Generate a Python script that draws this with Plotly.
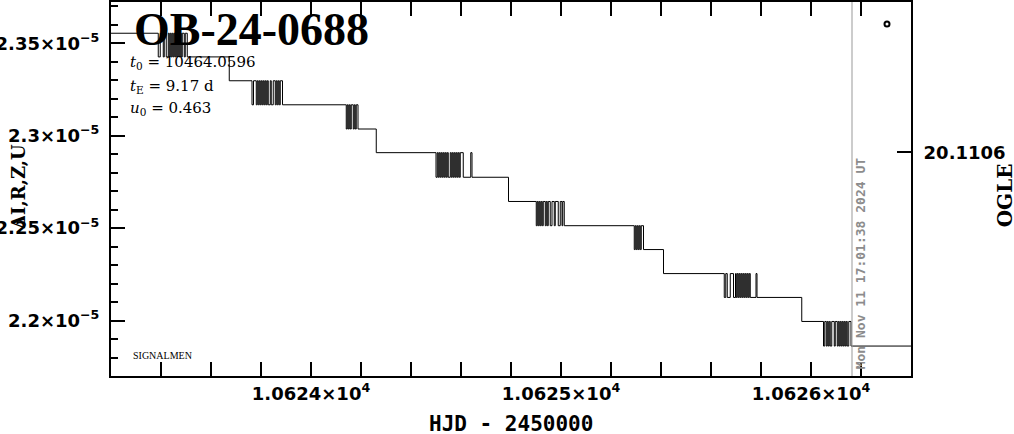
import plotly.graph_objects as go

# ---------------- data ----------------
event_name = "OB-24-0688"
t0_text = "10464.0596"
tE_text = "9.17 d"
u0_text = "0.463"
now_label = "Mon Nov 11 17:01:38 2024 UT"
now_hjd = 10626.164

# model magnitude levels (units of 1e-5), top-left to bottom-right
levels_1e5 = [2.3554, 2.3426, 2.3297, 2.3167, 2.3036, 2.2908, 2.2775,
              2.2644, 2.2513, 2.2384, 2.2254, 2.2125, 2.1995, 2.1862]

t_start = 10623.20
t_end = 10626.40

# times (HJD-2450000) where the curve switches between consecutive levels
gap_a = [10623.389, 10623.397, 10623.409, 10623.413, 10623.421, 10623.429, 10623.433,
         10623.437, 10623.441, 10623.445, 10623.449, 10623.453, 10623.457, 10623.461,
         10623.465, 10623.469, 10623.473, 10623.477, 10623.481, 10623.485, 10623.493,
         10623.497, 10623.505]
gap_b = [10623.673]
gap_c = [10623.764, 10623.770, 10623.781, 10623.785, 10623.789, 10623.793, 10623.797,
         10623.801, 10623.805, 10623.809, 10623.813, 10623.817, 10623.821, 10623.825,
         10623.829, 10623.837, 10623.841, 10623.849, 10623.857, 10623.861, 10623.865,
         10623.869, 10623.873, 10623.877, 10623.886]
gap_d = [10624.141, 10624.145, 10624.149, 10624.153, 10624.157, 10624.161, 10624.169,
         10624.173, 10624.177, 10624.181, 10624.188]
gap_e = [10624.261]
gap_f = [10624.500, 10624.505, 10624.509, 10624.513, 10624.517, 10624.521, 10624.525,
         10624.529, 10624.533, 10624.537, 10624.541, 10624.545, 10624.549, 10624.557,
         10624.561, 10624.565, 10624.569, 10624.573, 10624.577, 10624.581, 10624.585,
         10624.589, 10624.593, 10624.597, 10624.609, 10624.639, 10624.644]
gap_g = [10624.790]
gap_h = [10624.901, 10624.905, 10624.909, 10624.913, 10624.917, 10624.921, 10624.925,
         10624.929, 10624.937, 10624.941, 10624.945, 10624.949, 10624.957, 10624.964,
         10624.973, 10624.977, 10624.989, 10624.997, 10625.004, 10625.007, 10625.013]
gap_i = [10625.293, 10625.297, 10625.301, 10625.305, 10625.309, 10625.313, 10625.317,
         10625.321, 10625.330]
gap_j = [10625.410]
gap_k = [10625.653, 10625.659, 10625.665, 10625.677, 10625.690, 10625.698, 10625.701,
         10625.705, 10625.709, 10625.713, 10625.717, 10625.721, 10625.725, 10625.729,
         10625.733, 10625.737, 10625.741, 10625.745, 10625.749, 10625.753, 10625.757,
         10625.780, 10625.784]
gap_l = [10625.963]
gap_m = [10626.050, 10626.055, 10626.061, 10626.065, 10626.069, 10626.073, 10626.077,
         10626.083, 10626.093, 10626.097, 10626.105, 10626.109, 10626.113, 10626.117,
         10626.121, 10626.125, 10626.129, 10626.133, 10626.137, 10626.141, 10626.145,
         10626.151, 10626.160]
transitions = [gap_a, gap_b, gap_c, gap_d, gap_e, gap_f, gap_g,
               gap_h, gap_i, gap_j, gap_k, gap_l, gap_m]

ogle_t = [10626.304]
ogle_mag = [20.093]

x_tickvals = [10624, 10625, 10626]
x_ticktext = ["1.0624×10<sup>4</sup>", "1.0625×10<sup>4</sup>", "1.0626×10<sup>4</sup>"]
y_tickvals_1e5 = [2.20, 2.25, 2.30, 2.35]
y_ticktext = ["2.2×10<sup>−5</sup>", "2.25×10<sup>−5</sup>", "2.3×10<sup>−5</sup>", "2.35×10<sup>−5</sup>"]
y2_tickvals = [20.1106]
y2_ticktext = ["20.1106"]

# ---------------- build curve ----------------
ts = [t_start]
vs = [levels_1e5[0] * 1e-5]
for i, trans in enumerate(transitions):
    for k, tk in enumerate(trans):
        ts.append(tk)
        vs.append((levels_1e5[i + 1] if k % 2 == 0 else levels_1e5[i]) * 1e-5)
ts.append(t_end)
vs.append(levels_1e5[-1] * 1e-5)

fig = go.Figure()
fig.add_trace(go.Scatter(x=ts, y=vs, mode="lines", line=dict(color="black", width=1, shape="hv"),
                         hoverinfo="skip", showlegend=False))
fig.add_trace(go.Scatter(x=ogle_t, y=ogle_mag, yaxis="y2", mode="markers",
                         marker=dict(symbol="circle-open", size=5, color="black", line=dict(width=2)),
                         showlegend=False))

tickfont = dict(family="DejaVu Sans", size=18, color="black", weight="bold")

x_minor = [10623.2 + 0.2 * i for i in range(17)]
y_minor = [(2.17 + 0.01 * i) * 1e-5 for i in range(21)]

fig.update_layout(
    width=1014, height=434,
    margin=dict(l=111, r=103, t=2, b=58, autoexpand=False),
    paper_bgcolor="white", plot_bgcolor="white",
    xaxis=dict(range=[t_start, t_end], showgrid=False, zeroline=False, automargin=False,
               showline=True, linewidth=2, linecolor="black", mirror="allticks",
               ticks="inside", ticklen=14, tickwidth=1.5, tickcolor="black",
               tickmode="array", tickvals=x_tickvals, ticktext=x_ticktext,
               tickfont=tickfont, ticklabelstandoff=0,
               minor=dict(tickmode="array", tickvals=x_minor, ticks="inside", ticklen=7,
                          tickwidth=1.5, tickcolor="black", showgrid=False)),
    yaxis=dict(range=[2.1700e-5, 2.3723e-5], showgrid=False, zeroline=False, automargin=False,
               showline=True, linewidth=2, linecolor="black",
               ticks="inside", ticklen=14, tickwidth=1.5, tickcolor="black",
               tickmode="array", tickvals=[v * 1e-5 for v in y_tickvals_1e5], ticktext=y_ticktext,
               tickfont=tickfont, ticklabelstandoff=6,
               minor=dict(tickmode="array", tickvals=y_minor, ticks="inside", ticklen=7,
                          tickwidth=1.5, tickcolor="black", showgrid=False)),
    yaxis2=dict(overlaying="y", side="right", range=[20.1412, 20.09], showgrid=False, zeroline=False,
                automargin=False,
                showline=True, linewidth=2, linecolor="black",
                ticks="inside", ticklen=14, tickwidth=1.5, tickcolor="black",
                tickmode="array", tickvals=y2_tickvals, ticktext=y2_ticktext,
                tickfont=tickfont, ticklabelstandoff=7),
)

fig.add_shape(type="line", xref="x", yref="paper", x0=now_hjd, x1=now_hjd, y0=0, y1=1,
              line=dict(color="#999999", width=1))

ann = []
ann.append(dict(text=event_name, xref="paper", yref="paper", x=0.026, y=1.0,
                xanchor="left", yanchor="top", showarrow=False,
                font=dict(family="Liberation Serif", size=46, color="black", weight="bold")))
info_font = dict(family="DejaVu Serif", size=15, color="black")
for txt, ypx in [("<i>t</i><sub>0</sub> = " + t0_text, 63),
                 ("<i>t</i><sub>E</sub> = " + tE_text, 86),
                 ("<i>u</i><sub>0</sub> = " + u0_text, 108)]:
    ann.append(dict(text=txt, xref="paper", yref="paper", x=(128 - 111) / 799.7,
                    y=1 - (ypx - 2) / 374, xanchor="left", yanchor="middle",
                    showarrow=False, font=info_font))
ann.append(dict(text="SIGNALMEN", xref="paper", yref="paper", x=(131 - 111) / 799.7,
                y=1 - (355 - 2) / 374, xanchor="left", yanchor="middle", showarrow=False,
                font=dict(family="Liberation Serif", size=10, color="black")))
ann.append(dict(text=now_label, xref="paper", yref="paper", x=(860 - 111) / 799.7,
                y=1 - (264 - 2) / 374, xanchor="center", yanchor="middle", textangle=-90,
                showarrow=False,
                font=dict(family="DejaVu Sans Mono", size=13, color="#8c8c8c", weight="bold")))
ann.append(dict(text="HJD - 2450000", xref="paper", yref="paper", x=0.5,
                y=1 - (424 - 2) / 374, xanchor="center", yanchor="middle", showarrow=False,
                font=dict(family="DejaVu Sans Mono", size=21, color="black", weight="bold")))
ann.append(dict(text="ΔI,R,Z,U", xref="paper", yref="paper", x=(18 - 111) / 799.7,
                y=1 - (186 - 2) / 374, xanchor="center", yanchor="middle", textangle=-90,
                showarrow=False,
                font=dict(family="DejaVu Serif", size=18, color="black", weight="bold")))
ann.append(dict(text="OGLE", xref="paper", yref="paper", x=(1005 - 111) / 799.7,
                y=1 - (195 - 2) / 374, xanchor="center", yanchor="middle", textangle=-90,
                showarrow=False,
                font=dict(family="DejaVu Serif", size=20, color="black", weight="bold")))
fig.update_layout(annotations=ann)

fig.write_html("out.html", config={"displayModeBar": False},
               post_script="document.body.style.margin='0px';document.body.style.overflow='hidden';")
